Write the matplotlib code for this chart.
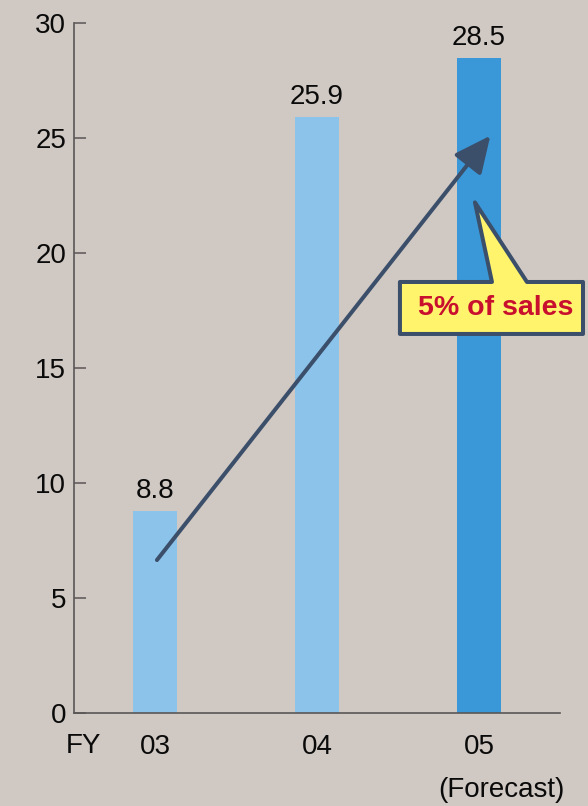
import matplotlib.pyplot as plt
from matplotlib.patches import Polygon

plt.rcParams['font.family'] = ['Liberation Sans', 'DejaVu Sans']

# Data
years = ["03", "04", "05"]
values = [8.8, 25.9, 28.5]
bar_colors = ["#8cc3ea", "#8cc3ea", "#3a98d8"]
yticks = [0, 5, 10, 15, 20, 25, 30]

bg = "#d0c8c2"
axis_col = "#5a5656"
navy = "#3b4f6b"
ink = "#0a0a0a"
fs = 20

fig = plt.figure(figsize=(5.88, 8.06), dpi=100, facecolor=bg)
ax = fig.add_axes([74 / 588, 93 / 806, (560 - 74) / 588, 690 / 806])
ax.set_facecolor(bg)

x = list(range(len(years)))
ax.bar(x, values, width=0.27, color=bar_colors, zorder=2)
for xi, v in zip(x, values):
    ax.text(xi, v + 0.3, f"{v}", ha="center", va="bottom", fontsize=fs, color=ink)

ax.set_xlim(-0.5, 2.5)
ax.set_ylim(0, 30)
ax.set_yticks(yticks)
ax.set_xticks(x)
ax.set_xticklabels(years)
ax.tick_params(axis="y", direction="in", length=8.6, width=1.1, color=axis_col,
               labelsize=fs, labelcolor=ink, pad=5.5)
ax.tick_params(axis="x", length=0, labelsize=fs, labelcolor=ink, pad=15)
for s in ["top", "right"]:
    ax.spines[s].set_visible(False)
for s in ["left", "bottom"]:
    ax.spines[s].set_color(axis_col)
    ax.spines[s].set_linewidth(1.2)

# FY label and forecast note
ax.text(-0.44, -1.45, "FY", ha="center", va="center", fontsize=fs, color=ink,
        clip_on=False)
ax.text(2.53, -3.35, "(Forecast)", ha="right", va="center", fontsize=fs, color=ink,
        clip_on=False)

# growth arrow
ax.annotate("", xy=(2.07, 25.1), xytext=(0.012, 6.65),
            arrowprops=dict(arrowstyle="-|>,head_length=1.6,head_width=0.75",
                            mutation_scale=14, lw=2.9, color=navy,
                            shrinkA=0, shrinkB=0, capstyle="round"),
            zorder=4)

# speech-bubble callout
bubble = [(1.512, 18.74), (2.08, 18.74), (1.975, 22.2), (2.296, 18.74),
          (2.642, 18.74), (2.642, 16.48), (1.512, 16.48)]
ax.add_patch(Polygon(bubble, closed=True, facecolor="#fff46c", edgecolor=navy,
                     lw=2.9, joinstyle="round", clip_on=False, zorder=5))
ax.text(2.1, 17.6, "5% of sales", ha="center", va="center", fontsize=20.5,
        fontweight="bold", color="#c8102e", zorder=6)

fig.savefig("out.png", dpi=100, facecolor=bg)
